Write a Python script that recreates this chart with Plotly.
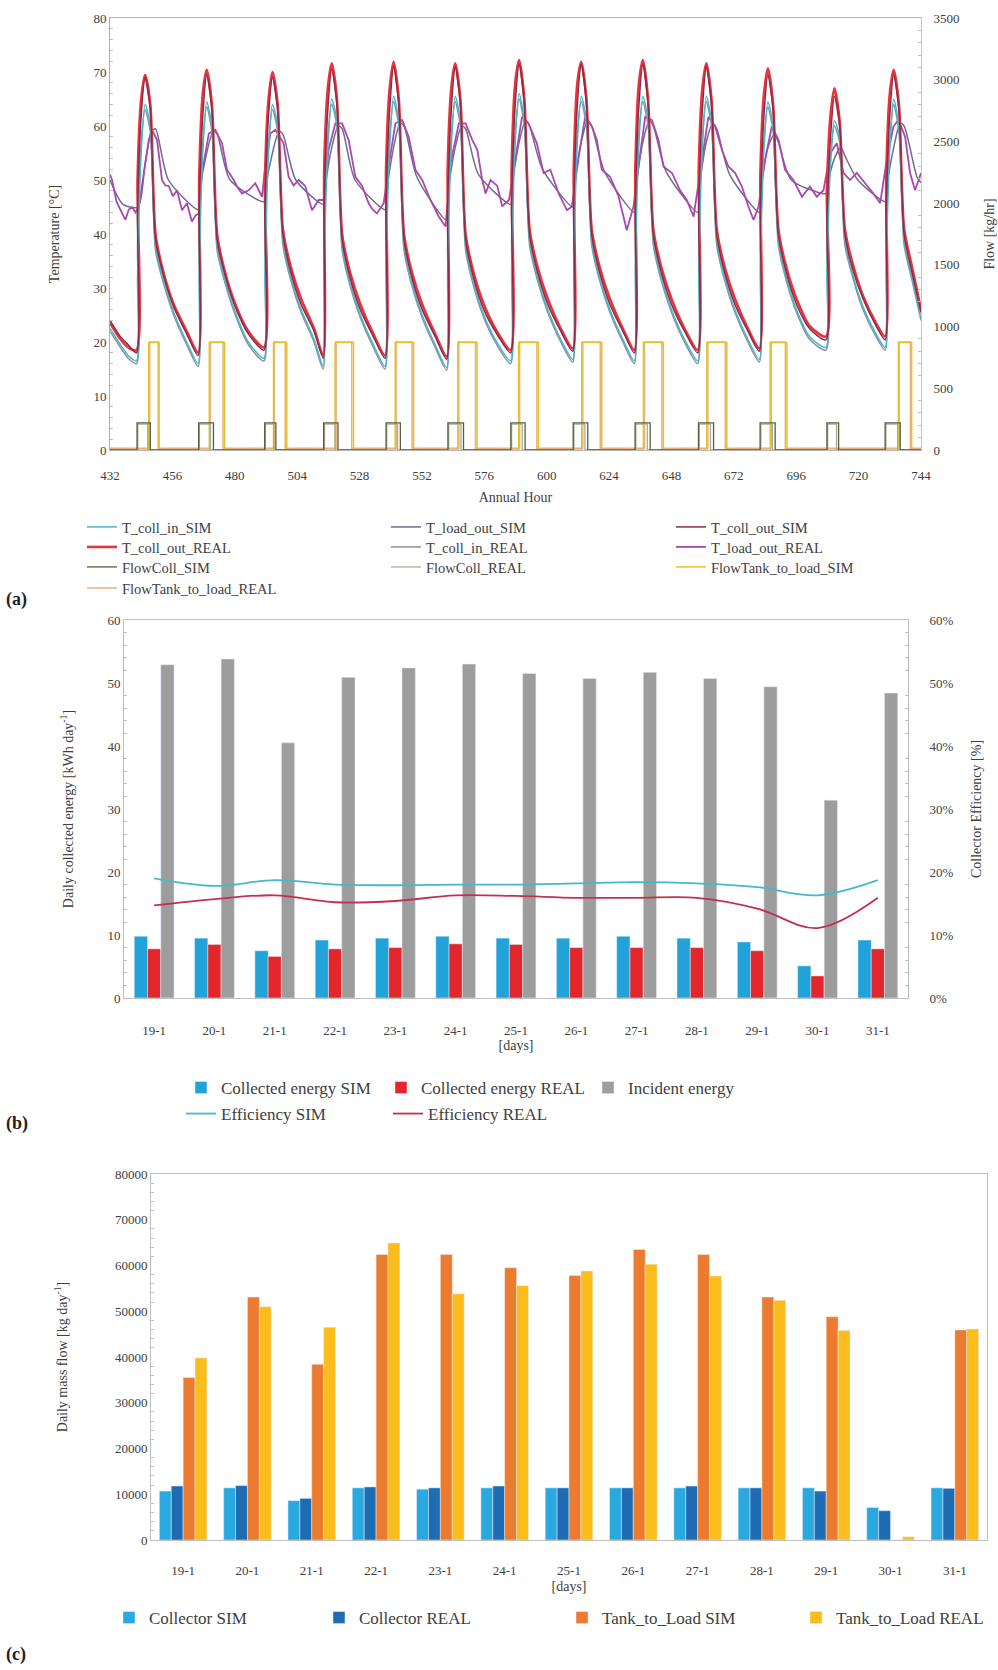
import plotly.graph_objects as go

# ---------------- DATA ----------------
# Panel (a): annual-hour time series
TICK_HOURS = [432, 456, 480, 504, 528, 552, 576, 600, 624, 648, 672, 696, 720, 744]

HOURS_COLL = [432, 436, 439,
              442.2, 442.6, 444, 445.5, 447.5, 449.5, 452.5, 456.5, 461.5,
              465.9, 466.3, 467.7, 469.2, 471.2, 473.2, 476.2, 480.2, 485.2,
              491.2, 491.6, 493, 494.5, 496.5, 498.5, 501.5, 505.5, 510.5,
              514, 514.4, 515.8, 517.3, 519.3, 521.3, 524.3, 528.3, 533.3,
              537.8, 538.2, 539.6, 541.1, 543.1, 545.1, 548.1, 552.1, 557.1,
              561.5, 561.9, 563.3, 564.8, 566.8, 568.8, 571.8, 575.8, 580.8,
              586.1, 586.5, 587.9, 589.4, 591.4, 593.4, 596.4, 600.4, 605.4,
              610, 610.4, 611.8, 613.3, 615.3, 617.3, 620.3, 624.3, 629.3,
              633.7, 634.1, 635.5, 637, 639, 641, 644, 648, 653,
              658.1, 658.5, 659.9, 661.4, 663.4, 665.4, 668.4, 672.4, 677.4,
              681.8, 682.2, 683.6, 685.1, 687.1, 689.1, 692.1, 696.1, 701.1,
              707.4, 707.8, 709.2, 710.7, 712.7, 714.7, 717.7, 721.7, 726.7,
              730.2, 730.6, 732, 733.5, 735.5, 737.5, 740.5, 744]

T_COLL_OUT_SIM = [24, 21, 19.5,
                  18, 44, 62, 69, 63, 39, 32.5, 26.5, 21.5,
                  17.5, 44, 62, 69.5, 63, 39, 32.5, 26.5, 21.5,
                  18.5, 44, 62, 69, 63, 40, 33, 27, 22,
                  17, 45, 63, 70.5, 64, 39, 32, 26, 21,
                  17, 45, 63, 71, 64, 39, 32, 26, 21,
                  16.8, 45, 63, 71, 64, 39, 32, 26, 21.5,
                  18, 45, 64, 71.5, 64, 40, 33, 27, 22,
                  18.3, 45, 64, 71.5, 64, 40, 33, 27, 22,
                  18, 45, 64, 71.5, 64, 40, 33, 27, 22,
                  18, 45, 63, 71, 64, 40, 33, 27, 22,
                  18.3, 44, 62, 69.5, 63, 40, 33, 27, 22.5,
                  20.4, 42, 58, 65.5, 60, 40, 33.5, 28, 23,
                  20.4, 44, 62, 69.5, 63, 40, 33, 25.5]

T_COLL_OUT_REAL = [23.5, 20.5, 19,
                   18.5, 50, 65, 69.5, 64, 40, 33, 27, 22,
                   18, 50, 66, 70.4, 64, 40, 33, 27, 22,
                   19, 50, 65, 70, 64, 41, 34, 28, 22.5,
                   17.5, 52, 67, 71.6, 65, 40, 33, 27, 21.5,
                   17.5, 52, 67, 71.9, 65, 40, 33, 27, 21.5,
                   17.3, 52, 67, 71.6, 65, 40, 33, 27, 22,
                   18.5, 52, 68, 72.2, 65, 41, 34, 28, 22.5,
                   18.8, 52, 68, 71.9, 65, 41, 34, 28, 22.5,
                   18.5, 52, 68, 72.2, 65, 41, 34, 28, 22.5,
                   18.5, 52, 67, 71.6, 65, 41, 34, 28, 22.5,
                   18.8, 51, 66, 70.7, 64, 41, 34, 28, 23,
                   21, 48, 62, 67, 61, 41, 34.5, 28.5, 23.5,
                   21, 50, 66, 70.4, 64, 41, 34, 26]

T_COLL_IN_SIM = [22.5, 19.5, 17.5,
                 16.5, 32, 55, 64, 60, 38, 31.5, 25.5, 20,
                 16, 32, 55, 64.5, 60, 38, 31.5, 25.5, 20,
                 17, 32, 55, 64, 60, 39, 32, 26, 20.5,
                 15.5, 33, 56, 65, 61, 38, 31, 25, 19.5,
                 15.5, 33, 56, 65.5, 61, 38, 31, 25, 19.5,
                 15.3, 33, 56, 65.5, 61, 38, 31, 25, 20,
                 16.5, 33, 57, 66, 61, 39, 32, 26, 20.5,
                 16.8, 33, 57, 65.5, 61, 39, 32, 26, 20.5,
                 16.5, 33, 57, 65.5, 61, 39, 32, 26, 20.5,
                 16.5, 33, 56, 65.5, 61, 39, 32, 26, 20.5,
                 16.8, 33, 56, 64.5, 60, 39, 32, 26, 21,
                 19, 32, 53, 61, 58, 39, 32.5, 26.5, 21.5,
                 19, 33, 56, 65, 60, 39, 32, 24.5]

T_COLL_IN_REAL = [22, 19, 17,
                  16, 38, 57, 63, 59, 37, 31, 25, 19.5,
                  15.5, 38, 57, 63.5, 59, 37, 31, 25, 19.5,
                  16.5, 38, 57, 63, 59, 38, 31.5, 25.5, 20,
                  15, 39, 58, 64, 60, 37, 30.5, 24.5, 19,
                  15, 39, 58, 64.5, 60, 37, 30.5, 24.5, 19,
                  14.8, 39, 58, 64.5, 60, 37, 30.5, 24.5, 19.5,
                  16, 39, 59, 65, 60, 38, 31.5, 25.5, 20,
                  16.3, 39, 59, 64.5, 60, 38, 31.5, 25.5, 20,
                  16, 39, 59, 64.5, 60, 38, 31.5, 25.5, 20,
                  16, 39, 58, 64.5, 60, 38, 31.5, 25.5, 20,
                  16.3, 38, 57, 63.5, 59, 38, 31.5, 25.5, 20.5,
                  18.5, 37, 54, 60, 57, 38, 32, 26, 21,
                  18.5, 38, 57, 64, 59, 38, 31.5, 24]

HOURS_LOAD_REAL = [432, 432.8, 434.5, 436, 437.9, 439.2, 440.5, 441.8, 443, 444.3, 446.9, 448.2,
                   450.1, 452, 453.3, 454.6, 456.2, 457.8, 459.7, 461.6, 463.5, 465, 466.1,
                   467.4, 470, 472.5, 475.1, 477, 479.6, 481.2, 482.8, 485.3, 487.9, 490.5,
                   491.7, 493.7, 495.6, 498.8, 500.7, 502.6, 504.6, 507.1, 509.7, 512.3, 514.2,
                   516.1, 518.7, 521.3, 523.8, 526.4, 529, 531.5, 533.1, 534.7, 537.3,
                   539.2, 541.8, 544.4, 546.9, 549.5, 552.1, 555.3, 558.5, 561.1,
                   563, 566.2, 568.8, 571.4, 573.3, 575.2, 576.5, 578.4, 581, 582.9, 585.5,
                   587.9, 590.5, 593, 596.2, 598.8, 601.4, 604.6, 607.8, 609.7,
                   612.3, 614.8, 617.4, 619.3, 621.2, 624.4, 627.7, 630.8, 633.4,
                   635.3, 637.9, 640.5, 643, 644.9, 648.2, 651.3, 653.9, 656.5,
                   659.7, 662.2, 664.8, 667.4, 669.9, 672.5, 675.1, 677.6, 679.6, 681.5,
                   684, 686.6, 689.2, 691.7, 694.9, 698.2, 701.3, 703.9, 706.5,
                   709, 711.6, 714.2, 716.7, 719.3, 722.5, 725.7, 728.3,
                   730.8, 733.4, 735.3, 737.9, 739.8, 741.7, 744]
T_LOAD_OUT_REAL = [51, 50, 46, 44.4, 42.6, 44.5, 45, 44, 45, 48.9, 57.4, 59.3,
                   57.4, 50, 49, 48.9, 47, 48.1, 44.4, 45.7, 42.3, 43.5, 43.8,
                   51.2, 58.6, 59.3, 56.8, 51.9, 50, 48.5, 47.5, 48.1, 49.4, 46.9,
                   52.5, 58.6, 59.3, 56.8, 50.6, 49, 50, 48.9, 44.4, 46.3, 46.3,
                   55.6, 60.5, 60.5, 57.4, 50.6, 48.9, 45.7, 44.5, 43.8, 45.7,
                   52.5, 60.5, 61.1, 58, 51.9, 50, 46.3, 43.2, 41.4,
                   53.1, 60.5, 60.5, 57.4, 55.6, 50, 47.5, 50, 48.9, 45.1, 46.3,
                   53.7, 61.7, 60.5, 56.8, 51.3, 51.9, 47.5, 44.4, 45.1,
                   54.3, 61.7, 59.9, 57.4, 51.9, 50.6, 46.9, 40.7, 45.1,
                   52.5, 61.7, 61.1, 57.4, 52.5, 51.3, 48.1, 46.3, 43.2,
                   53.7, 61.7, 59.9, 55.6, 52.5, 51.3, 48.8, 45.1, 42.6, 45.1,
                   53.7, 59.9, 57.4, 51.9, 50, 46.9, 48.8, 46.9, 48.1,
                   54.9, 56.8, 51.3, 50, 51.3, 49.4, 47.5, 45.7,
                   53.7, 59.9, 61.1, 58, 51.3, 48.1, 51.3]

HOURS_LOAD_SIM = [432, 437, 442.8, 445.5, 448, 449.5, 454.5, 466,
                  466.5, 469.2, 471.7, 473.2, 478.2, 491.3,
                  491.8, 494.5, 497, 498.5, 503.5, 514.1,
                  514.6, 517.3, 519.8, 521.3, 526.3, 537.9,
                  538.4, 541.1, 543.6, 545.1, 550.1, 561.6,
                  562.1, 564.8, 567.3, 568.8, 573.8, 586.2,
                  586.7, 589.4, 591.9, 593.4, 598.4, 610.1,
                  610.6, 613.3, 615.8, 617.3, 622.3, 633.8,
                  634.3, 637, 639.5, 641, 646, 658.2,
                  658.7, 661.4, 663.9, 665.4, 670.4, 681.9,
                  682.4, 685.1, 687.6, 689.1, 694.1, 707.5,
                  708, 710.7, 713.2, 714.7, 719.7, 730.3,
                  730.8, 733.5, 736, 737.5, 742.5, 744]
T_LOAD_OUT_SIM = [50, 45.5, 45, 53, 59, 59.5, 50, 44.5,
                  48, 55, 59, 58.5, 50, 46,
                  48.5, 55, 59, 58.5, 50, 45.5,
                  48, 56, 60, 59.5, 50, 44.5,
                  47.5, 56, 60.5, 60, 50.5, 42.5,
                  48, 56, 60, 59.5, 51, 45.5,
                  49, 57, 61, 60, 52, 45,
                  49, 57, 61, 60, 51.5, 44,
                  48.5, 57, 61, 60, 51.5, 44,
                  48.5, 57, 60.5, 59.5, 51, 44,
                  48.5, 56, 58.5, 57, 50, 47.5,
                  49, 54, 56, 54.5, 50, 46,
                  48.5, 56, 60.5, 60, 50.5, 49.5]

HOURS_FCOLL_SIM = [432, 442.4, 447.5, 466.1, 471.8, 491.5, 495.8, 514.2, 519.7, 538.2, 543.7,
                   562, 568, 586.2, 591.7, 610.2, 615.8, 634, 639.8, 658.4, 664.2,
                   682.1, 687.9, 707.8, 712.3, 730.2, 736, 744]
FLOW_COLL_SIM = [0, 220, 0, 220, 0, 220, 0, 220, 0, 220, 0,
                 220, 0, 220, 0, 220, 0, 220, 0, 220, 0,
                 220, 0, 220, 0, 220, 0, 0]

HOURS_FCOLL_REAL = [432, 442.7, 446.5, 466.4, 470.6, 491.8, 495, 514.5, 518.6, 538.5, 542.6,
                    562.3, 567, 586.5, 590.6, 610.5, 614.7, 634.3, 638.7, 658.7, 663,
                    682.4, 686.8, 708.1, 711.5, 730.5, 735, 744]
FLOW_COLL_REAL = [0, 210, 0, 210, 0, 210, 0, 210, 0, 210, 0,
                  210, 0, 210, 0, 210, 0, 210, 0, 210, 0,
                  210, 0, 210, 0, 210, 0, 0]

HOURS_FTANK_SIM = [432, 446.9, 450.9, 470.2, 476.1, 494.9, 500, 518.6, 525.7, 541.7, 548.8,
                   565.8, 573.2, 589.2, 596.8, 613.5, 621.2, 637.2, 644.9, 661.6, 669.3,
                   686, 692.4, 735.3, 740.4, 744]
FLOW_TANK_SIM = [0, 870, 0, 870, 0, 870, 0, 870, 0, 870, 0,
                 870, 0, 870, 0, 870, 0, 870, 0, 870, 0,
                 870, 0, 870, 0, 0]

HOURS_FTANK_REAL = [432, 447.3, 450.5, 470.6, 475.5, 495.2, 499.4, 519, 525, 542.1, 548.2,
                    566.2, 572.6, 589.6, 596.2, 613.9, 620.6, 637.6, 644.3, 662, 668.7,
                    686.4, 691.8, 735.6, 739.9, 744]
FLOW_TANK_REAL = [15, 875, 15, 875, 15, 875, 15, 875, 15, 875, 15,
                  875, 15, 875, 15, 875, 15, 875, 15, 875, 15,
                  875, 15, 875, 15, 15]

# Panel (b) and (c): daily values
DAYS = ['19-1', '20-1', '21-1', '22-1', '23-1', '24-1', '25-1',
        '26-1', '27-1', '28-1', '29-1', '30-1', '31-1']
COLLECTED_SIM = [9.8, 9.5, 7.5, 9.2, 9.5, 9.8, 9.5, 9.5, 9.8, 9.5, 8.9, 5.1, 9.2]
COLLECTED_REAL = [7.8, 8.5, 6.6, 7.8, 8.0, 8.6, 8.5, 8.0, 8.0, 8.0, 7.5, 3.5, 7.8]
INCIDENT = [52.9, 53.8, 40.5, 50.9, 52.4, 53.0, 51.5, 50.7, 51.7, 50.7, 49.4, 31.4, 48.4]
EFF_SIM = [0.190, 0.178, 0.187, 0.180, 0.179, 0.180, 0.180, 0.182, 0.184, 0.182, 0.176, 0.163, 0.187]
EFF_REAL = [0.147, 0.157, 0.163, 0.152, 0.154, 0.163, 0.162, 0.159, 0.159, 0.159, 0.142, 0.111, 0.159]

COLL_FLOW_SIM = [10700, 11400, 8600, 11400, 11100, 11400, 11400, 11400, 11400, 11400, 11400, 7100, 11400]
COLL_FLOW_REAL = [11800, 11900, 9100, 11600, 11400, 11800, 11400, 11400, 11800, 11400, 10700, 6400, 11300]
TANK_FLOW_SIM = [35500, 53100, 38400, 62400, 62400, 59500, 57800, 63500, 62400, 53100, 48800, 0, 45900]
TANK_FLOW_REAL = [39800, 51000, 46500, 64900, 53800, 55600, 58800, 60300, 57700, 52400, 45800, 700, 46100]

# ---------------- LAYOUT HELPERS ----------------
W, H = 998, 1670
SERIF = 'Liberation Serif'
TXT = '#404040'


def fx(p):
    return p / W


def fy(p):
    return 1 - p / H


fig = go.Figure()
LEGENDS = {}
_leg_count = [1]


def new_legend(text_x, row_y, size):
    _leg_count[0] += 1
    key = 'legend%d' % _leg_count[0]
    LEGENDS[key] = dict(orientation='h', x=fx(text_x - 40), xanchor='left', y=fy(row_y),
                        yanchor='middle', bgcolor='rgba(0,0,0,0)', itemwidth=30,
                        font=dict(family=SERIF, size=size, color=TXT))
    return key


# legend slots (text start x, row centre y) for every series
LA = 14.5
LEG_A = {
    'T_coll_in_SIM': new_legend(122, 527, LA), 'T_load_out_SIM': new_legend(426, 527, LA),
    'T_coll_out_SIM': new_legend(711, 527, LA),
    'T_coll_out_REAL': new_legend(122, 547, LA), 'T_coll_in_REAL': new_legend(426, 547, LA),
    'T_load_out_REAL': new_legend(711, 547, LA),
    'FlowColl_SIM': new_legend(122, 567, LA), 'FlowColl_REAL': new_legend(426, 567, LA),
    'FlowTank_to_load_SIM': new_legend(711, 567, LA),
    'FlowTank_to_load_REAL': new_legend(122, 588, LA),
}
LB = 17
LEG_B = {
    'Collected energy SIM': new_legend(221, 1088, LB), 'Collected energy REAL': new_legend(421, 1088, LB),
    'Incident energy': new_legend(628, 1088, LB),
    'Efficiency SIM': new_legend(221, 1114, LB), 'Efficiency REAL': new_legend(428, 1114, LB),
}
LC = 17
LEG_C = {
    'Collector SIM': new_legend(149, 1618, LC), 'Collector REAL': new_legend(359, 1618, LC),
    'Tank_to_Load SIM': new_legend(602, 1618, LC), 'Tank_to_Load REAL': new_legend(836, 1618, LC),
}


# ---- Panel (a) ----
def line(x, y, name, color, yaxis='y', width=1.5, shape='linear'):
    ln = dict(color=color, width=width, shape=shape)
    if shape == 'spline':
        ln['smoothing'] = 0.7
    fig.add_trace(go.Scatter(x=x, y=y, name=name, mode='lines', xaxis='x', yaxis=yaxis,
                             line=ln, legend=LEG_A[name]))


line(HOURS_FTANK_REAL, FLOW_TANK_REAL, 'FlowTank_to_load_REAL', '#ecb27a', 'y2', 1.5, 'hv')
line(HOURS_FTANK_SIM, FLOW_TANK_SIM, 'FlowTank_to_load_SIM', '#e3c22e', 'y2', 1.5, 'hv')
line(HOURS_FCOLL_REAL, FLOW_COLL_REAL, 'FlowColl_REAL', '#a7ad98', 'y2', 1.3, 'hv')
line(HOURS_FCOLL_SIM, FLOW_COLL_SIM, 'FlowColl_SIM', '#56603f', 'y2', 1.3, 'hv')
line(HOURS_LOAD_SIM, T_LOAD_OUT_SIM, 'T_load_out_SIM', '#6b6f8c', shape='spline')
line(HOURS_LOAD_REAL, T_LOAD_OUT_REAL, 'T_load_out_REAL', '#aa48b0', width=1.8)
line(HOURS_COLL, T_COLL_OUT_REAL, 'T_coll_out_REAL', '#e8343c', width=2.6, shape='spline')
line(HOURS_COLL, T_COLL_IN_REAL, 'T_coll_in_REAL', '#8f8f99', shape='spline')
line(HOURS_COLL, T_COLL_IN_SIM, 'T_coll_in_SIM', '#45b9cc', shape='spline')
line(HOURS_COLL, T_COLL_OUT_SIM, 'T_coll_out_SIM', '#8e2a48', width=1.5, shape='spline')

# ---- Panel (b) ----
BW_B = 0.22
for vals, name, col, off in [(COLLECTED_SIM, 'Collected energy SIM', '#21a3da', -0.33),
                             (COLLECTED_REAL, 'Collected energy REAL', '#e3262b', -0.11),
                             (INCIDENT, 'Incident energy', '#9d9d9d', 0.11)]:
    fig.add_trace(go.Bar(x=DAYS, y=vals, name=name, xaxis='x3', yaxis='y3', marker_color=col,
                         width=BW_B, offset=off, legend=LEG_B[name]))
for vals, name, col in [(EFF_SIM, 'Efficiency SIM', '#45b9c9'), (EFF_REAL, 'Efficiency REAL', '#c3304c')]:
    fig.add_trace(go.Scatter(x=DAYS, y=vals, name=name, mode='lines', xaxis='x3', yaxis='y4',
                             line=dict(color=col, width=1.8, shape='spline'), legend=LEG_B[name]))

# ---- Panel (c) ----
BW_C = 0.185
for vals, name, col, off in [(COLL_FLOW_SIM, 'Collector SIM', '#2aa8e0', -0.37),
                             (COLL_FLOW_REAL, 'Collector REAL', '#1e6cb3', -0.185),
                             (TANK_FLOW_SIM, 'Tank_to_Load SIM', '#ec7a2f', 0.0),
                             (TANK_FLOW_REAL, 'Tank_to_Load REAL', '#fbbd1c', 0.185)]:
    fig.add_trace(go.Bar(x=DAYS, y=vals, name=name, xaxis='x5', yaxis='y5', marker_color=col,
                         width=BW_C, offset=off, legend=LEG_C[name]))

# ---------------- AXES ----------------
tickf = dict(family=SERIF, size=13, color=TXT)
titlef = dict(family=SERIF, size=14, color=TXT)
common = dict(showgrid=False, zeroline=False, automargin=False, ticks='', tickfont=tickf)

fig.update_layout(
    xaxis=dict(domain=[fx(110), fx(921)], anchor='y', range=[432, 744], tickvals=TICK_HOURS,
               showline=True, linecolor='#b8b8b8', mirror=True, ticklabelstandoff=13,
               title=dict(text='Annual Hour', font=titlef, standoff=10), **common),
    yaxis=dict(domain=[fy(450), fy(18)], anchor='x', range=[0, 80], dtick=10,
               showline=True, linecolor='#c9a0b0',
               minor=dict(ticks='inside', ticklen=3, tickcolor='#c0c0c0', dtick=2),
               title=dict(text='Temperature [°C]', font=titlef, standoff=30), **common),
    yaxis2=dict(overlaying='y', side='right', anchor='x', range=[0, 3500], dtick=500,
                showline=True, linecolor='#c8c8c8', ticklabelstandoff=9,
                minor=dict(ticks='inside', ticklen=3, tickcolor='#c0c0c0', dtick=100),
                title=dict(text='Flow [kg/hr]', font=titlef, standoff=25), **common),

    xaxis3=dict(domain=[fx(124), fx(908)], anchor='y3', type='category',
                showline=True, linecolor='#c0c0c0', mirror=True, ticklabelstandoff=20,
                title=dict(text='[days]', font=titlef, standoff=2), **common),
    yaxis3=dict(domain=[fy(998), fy(620)], anchor='x3', range=[0, 60], dtick=10,
                showline=True, linecolor='#c0c0c0',
                minor=dict(ticks='inside', ticklen=3, tickcolor='#c0c0c0', dtick=2),
                title=dict(text='Daily collected energy [kWh day<sup>-1</sup>]', font=titlef, standoff=30),
                **common),
    yaxis4=dict(overlaying='y3', side='right', anchor='x3', range=[0, 0.6], dtick=0.1, tickformat='.0%',
                showline=True, linecolor='#c0c0c0', ticklabelstandoff=18,
                minor=dict(ticks='inside', ticklen=3, tickcolor='#c0c0c0', dtick=0.02),
                title=dict(text='Collector Efficiency [%]', font=titlef, standoff=18), **common),

    xaxis5=dict(domain=[fx(151), fx(987)], anchor='y5', type='category',
                showline=True, linecolor='#c0c0c0', mirror=True, ticklabelstandoff=18,
                title=dict(text='[days]', font=titlef, standoff=4), **common),
    yaxis5=dict(domain=[fy(1540), fy(1174)], anchor='x5', range=[0, 80000], dtick=10000, tickformat='d',
                showline=True, linecolor='#c0c0c0', mirror=True,
                minor=dict(ticks='inside', ticklen=3, tickcolor='#c0c0c0', dtick=2000),
                title=dict(text='Daily mass flow [kg day<sup>-1</sup>]', font=titlef, standoff=44),
                **common),
)

fig.update_layout(**LEGENDS)

# ---------------- PANEL LETTERS ----------------
for txt, yp in [('(a)', 600), ('(b)', 1123), ('(c)', 1654)]:
    fig.add_annotation(text='<b>' + txt + '</b>', x=fx(4), y=fy(yp), xref='paper', yref='paper',
                       xanchor='left', yanchor='middle', showarrow=False,
                       font=dict(family=SERIF, size=18, color='#222222'))

fig.update_layout(width=W, height=H, margin=dict(l=0, r=0, t=0, b=0, autoexpand=False),
                  paper_bgcolor='white', plot_bgcolor='white', barmode='overlay',
                  font=dict(family=SERIF, color=TXT))

fig.write_html('out.html', config={'displayModeBar': False},
               post_script="document.body.style.margin='0';")
